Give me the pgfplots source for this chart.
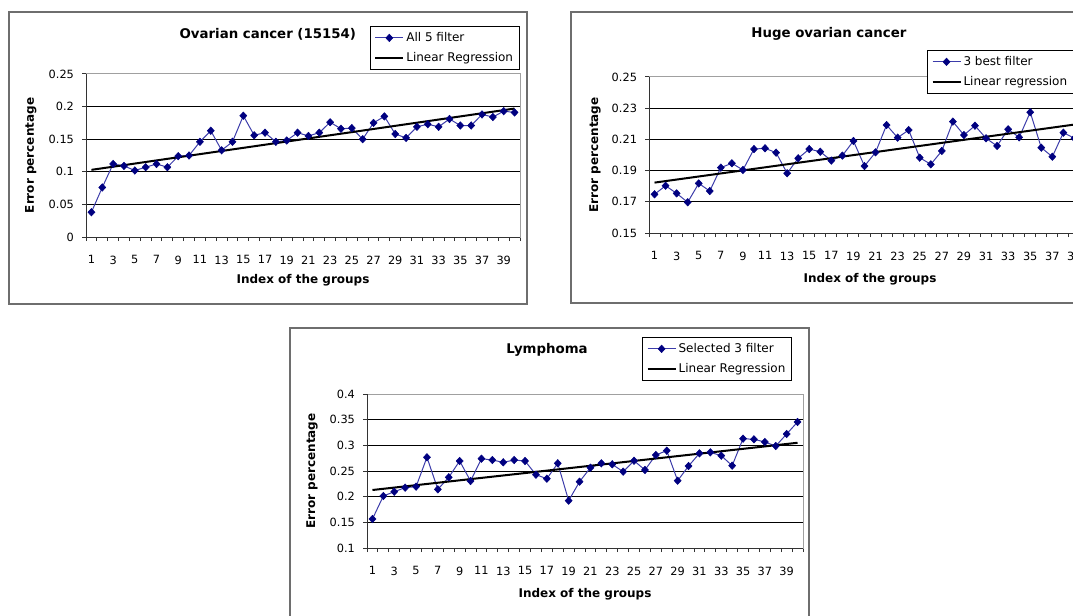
\documentclass[border=0pt]{standalone}
\usepackage{fontspec}
\setmainfont{DejaVu Sans}
\usepackage{pgfplots}
\pgfplotsset{compat=1.18}
\definecolor{navyser}{RGB}{0,0,128}
\definecolor{serline}{RGB}{60,60,170}
\definecolor{framegray}{RGB}{110,110,110}
\definecolor{boxgray}{RGB}{160,160,160}
\pgfplotsset{
 excel/.style={
   scale only axis, xmin=0.5, xmax=40.5,
   axis line style={boxgray, line width=0.75pt},
   xtick={0.5,1.5,...,40.5}, xticklabels={},
   extra x ticks={1,3,...,39},
   extra x tick labels={1,3,5,7,9,11,13,15,17,19,21,23,25,27,29,31,33,35,37,39},
   extra x tick style={tick style={draw=none}},
   tick pos=left,
   tick align=outside, major tick length=3pt,
   tick style={black!80, line width=0.75pt},
   ymajorgrids, major grid style={black, line width=0.75pt},
   tick label style={font=\fontsize{8.5}{10}\selectfont},
   xticklabel style={yshift=-7.5pt},
   yticklabel style={xshift=-2.5pt},
   label style={font=\bfseries\fontsize{9}{10}\selectfont},
   title style={font=\bfseries\fontsize{10}{12}\selectfont, anchor=center, yshift=-6.75pt},
   xlabel={Index of the groups}, ylabel={Error percentage},
   legend cell align=left,
   legend style={anchor=north west, draw=black, line width=0.75pt, fill=white,
     font=\fontsize{9}{10}\selectfont, inner xsep=3pt, inner ysep=2.5pt, row sep=3pt,
     nodes={inner sep=1.5pt, text height=7pt, text depth=2pt}},
   legend image code/.code={\draw[mark repeat=2,mark phase=2,##1] plot coordinates {(0pt,0pt) (10.5pt,0pt) (21pt,0pt)};},
 },
 ser/.style={color=serline, line width=0.75pt, mark=diamond*, mark size=2.8pt,
   mark options={draw=navyser, fill=navyser, line width=0.4pt, xscale=1.25}},
 reg/.style={black, line width=1.5pt, no marks},
}
\begin{document}
\begin{tikzpicture}
\path[use as bounding box, clip] (0,0) rectangle (804.75pt,461.25pt);
% frames
\draw[framegray, line width=1pt] (6.75pt,233.25pt) rectangle (395.25pt,452.25pt);
\draw[framegray, line width=1pt] (428.25pt,234pt) rectangle (830pt,452.25pt);
\draw[framegray, line width=1pt] (217.5pt,-5pt) rectangle (606.75pt,215.25pt);

% Panel 1
\begin{axis}[excel, at={(64.5pt,283.5pt)}, anchor=south west,
  width=325.5pt, height=122.25pt, ymin=0, ymax=0.25,
  ytick={0,0.05,0.1,0.15,0.2,0.25}, yticklabels={0,0.05,0.1,0.15,0.2,0.25},
  title={Ovarian cancer (15154)},
  title style={at={(axis description cs:0.419,1.252)}},
  xlabel style={at={(axis description cs:0.5,-0.264)}, anchor=center},
  ylabel style={at={(axis description cs:-0.127,0.5)}, anchor=center},
  legend style={at={(axis description cs:0.654,1.294)}}]
\addplot[ser] coordinates {
(1,0.038) (2,0.076) (3,0.112) (4,0.109) (5,0.102) (6,0.107) (7,0.112) (8,0.107)
(9,0.124) (10,0.125) (11,0.146) (12,0.163) (13,0.133) (14,0.146) (15,0.186) (16,0.156)
(17,0.160) (18,0.146) (19,0.148) (20,0.160) (21,0.155) (22,0.160) (23,0.176) (24,0.166)
(25,0.167) (26,0.150) (27,0.175) (28,0.185) (29,0.158) (30,0.152) (31,0.169) (32,0.173)
(33,0.169) (34,0.181) (35,0.171) (36,0.171) (37,0.188) (38,0.184) (39,0.193) (40,0.191)};
\addlegendentry{All 5 filter}
\addplot[reg] coordinates {(1,0.103) (40,0.197)};
\addlegendentry{Linear Regression}
\draw[black!80, line width=0.75pt] (rel axis cs:0,1) -- (rel axis cs:0,0) -- (rel axis cs:1,0);
\end{axis}

% Panel 2
\begin{axis}[excel, at={(486.75pt,286.5pt)}, anchor=south west,
  width=331.5pt, height=117pt, ymin=0.15, ymax=0.25,
  ytick={0.15,0.17,0.19,0.21,0.23,0.25}, yticklabels={0.15,0.17,0.19,0.21,0.23,0.25},
  title={Huge ovarian cancer},
  title style={at={(axis description cs:0.407,1.282)}},
  xlabel style={at={(axis description cs:0.5,-0.295)}, anchor=center},
  ylabel style={at={(axis description cs:-0.122,0.5)}, anchor=center},
  legend style={at={(axis description cs:0.629,1.173)}}]
\addplot[ser] coordinates {
(1,0.1748) (2,0.1803) (3,0.1754) (4,0.1697) (5,0.1818) (6,0.1769) (7,0.1919) (8,0.1947)
(9,0.1904) (10,0.2038) (11,0.2043) (12,0.2015) (13,0.1883) (14,0.1979) (15,0.2038) (16,0.2021)
(17,0.1964) (18,0.1996) (19,0.2090) (20,0.1929) (21,0.2017) (22,0.2192) (23,0.2111) (24,0.2160)
(25,0.1983) (26,0.1940) (27,0.2026) (28,0.2214) (29,0.2128) (30,0.2188) (31,0.2107) (32,0.2058)
(33,0.2165) (34,0.2113) (35,0.2274) (36,0.2047) (37,0.1989) (38,0.2143) (39,0.2107) (40,0.2203)};
\addlegendentry{3 best filter}
\addplot[reg] coordinates {(1,0.1823) (40,0.2205)};
\addlegendentry{Linear regression}
\draw[black!80, line width=0.75pt] (rel axis cs:0,1) -- (rel axis cs:0,0) -- (rel axis cs:1,0);
\end{axis}

% Panel 3
\begin{axis}[excel, at={(275.25pt,50.25pt)}, anchor=south west,
  width=327pt, height=115.5pt, ymin=0.1, ymax=0.4,
  ytick={0.1,0.15,0.2,0.25,0.3,0.35,0.4}, yticklabels={0.1,0.15,0.2,0.25,0.3,0.35,0.4},
  title={Lymphoma},
  title style={at={(axis description cs:0.413,1.292)}},
  xlabel style={at={(axis description cs:0.5,-0.299)}, anchor=center},
  ylabel style={at={(axis description cs:-0.126,0.5)}, anchor=center},
  legend style={at={(axis description cs:0.631,1.370)}}]
\addplot[ser] coordinates {
(1,0.1565) (2,0.2013) (3,0.2097) (4,0.2175) (5,0.2195) (6,0.2767) (7,0.2143) (8,0.2377)
(9,0.2695) (10,0.2305) (11,0.2740) (12,0.2714) (13,0.2669) (14,0.2714) (15,0.2695) (16,0.2428)
(17,0.2350) (18,0.2650) (19,0.1922) (20,0.2292) (21,0.2565) (22,0.2650) (23,0.2630) (24,0.2487)
(25,0.2700) (26,0.2520) (27,0.2812) (28,0.2896) (29,0.2311) (30,0.2597) (31,0.2844) (32,0.2864)
(33,0.2799) (34,0.2604) (35,0.3130) (36,0.3117) (37,0.3065) (38,0.2987) (39,0.3221) (40,0.3455)};
\addlegendentry{Selected 3 filter}
\addplot[reg] coordinates {(1,0.213) (40,0.305)};
\addlegendentry{Linear Regression}
\draw[black!80, line width=0.75pt] (rel axis cs:0,1) -- (rel axis cs:0,0) -- (rel axis cs:1,0);
\end{axis}
\end{tikzpicture}
\end{document}
